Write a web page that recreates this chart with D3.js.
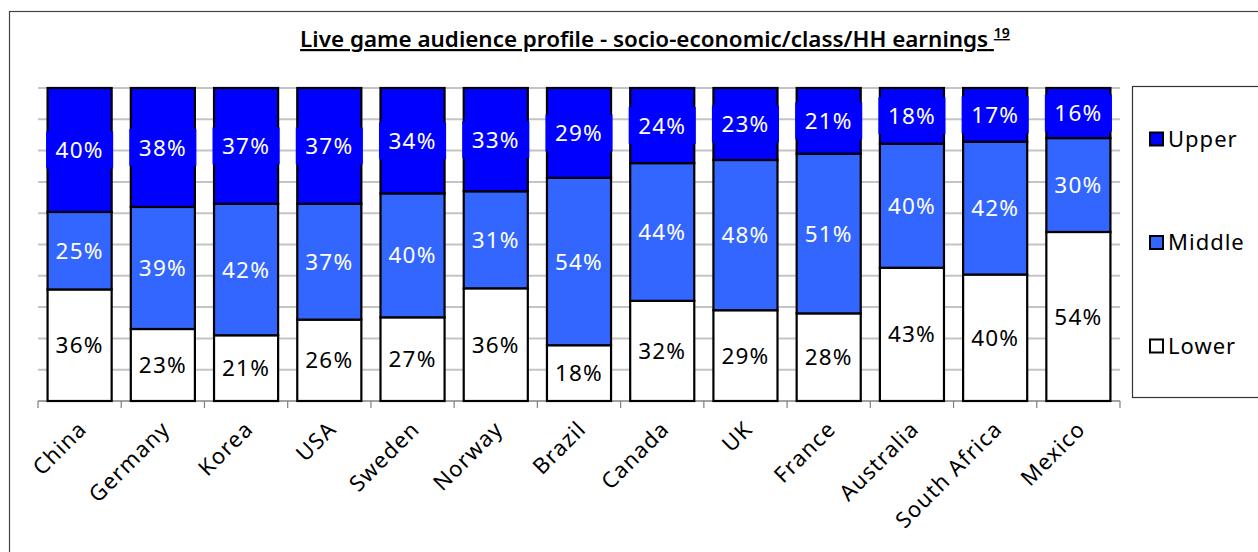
<!DOCTYPE html>
<html>
<head>
<meta charset="utf-8">
<script src="https://cdn.jsdelivr.net/npm/d3@7"></script>
<style>
  html, body { margin: 0; padding: 0; background: #fff; }
  svg { display: block; }
  text { font-family: "Noto Sans", "Open Sans", sans-serif; }
</style>
</head>
<body>
<svg id="chart" width="1258" height="552"></svg>
<script>
// Live game audience by socio-economic class, share of respondents (%)
const countries = ["China", "Germany", "Korea", "USA", "Sweden", "Norway", "Brazil",
                   "Canada", "UK", "France", "Australia", "South Africa", "Mexico"];
const lower  = [36, 23, 21, 26, 27, 36, 18, 32, 29, 28, 43, 40, 54];
const middle = [25, 39, 42, 37, 40, 31, 54, 44, 48, 51, 40, 42, 30];
const upper  = [40, 38, 37, 37, 34, 33, 29, 24, 23, 21, 18, 17, 16];
const seriesNames = ["Lower", "Middle", "Upper"];
const seriesColors = ["#FFFFFF", "#3366FF", "#0000FF"];
const labelColors  = ["#000000", "#FFFFFF", "#FFFFFF"];
const gridTicks = [0, 0.1, 0.2, 0.3, 0.4, 0.5, 0.6, 0.7, 0.8, 0.9, 1.0];
const titleText = "Live game audience profile - socio-economic/class/HH earnings";
const titleNote = "19";

const svg = d3.select("#chart");
const W = 1258, H = 552;
const plot = { left: 38, right: 1120, top: 88, bottom: 401 };

// outer chart frame
svg.append("rect")
  .attr("x", 9.5).attr("y", 11.5)
  .attr("width", W + 20).attr("height", H + 20)
  .attr("fill", "none").attr("stroke", "#444").attr("stroke-width", 1.2);

// title with footnote marker
const title = svg.append("text")
  .attr("x", 655).attr("y", 47)
  .attr("text-anchor", "middle")
  .attr("font-size", 22).attr("font-weight", 600)
  .attr("fill", "#000")
  .attr("text-decoration", "underline");
title.append("tspan").attr("textLength", 688).attr("lengthAdjust", "spacingAndGlyphs").text(titleText);
title.append("tspan").text(" ");
title.append("tspan").attr("font-size", 14).attr("dy", -9).text(titleNote);

const rows = countries.map((c, i) => ({
  country: c, Lower: lower[i], Middle: middle[i], Upper: upper[i]
}));

const stacked = d3.stack()
  .keys(seriesNames)
  .offset(d3.stackOffsetExpand)(rows);

const x = d3.scaleBand()
  .domain(countries)
  .range([plot.left, plot.right])
  .paddingInner(0.23).paddingOuter(0.115);
const xTicks = d3.scaleBand().domain(countries).range([plot.left, plot.right]);

const y = d3.scaleLinear().domain([0, 1]).range([plot.bottom, plot.top]);

// horizontal gridlines
svg.append("g")
  .selectAll("line")
  .data(gridTicks)
  .join("line")
  .attr("x1", plot.left).attr("x2", plot.right)
  .attr("y1", d => y(d)).attr("y2", d => y(d))
  .attr("stroke", "#c4c4c4").attr("stroke-width", 2);

// category axis
const xAxis = svg.append("g")
  .attr("transform", `translate(0,${plot.bottom})`);
xAxis.append("line")
  .attr("x1", plot.left).attr("x2", plot.right)
  .attr("stroke", "#808080").attr("stroke-width", 1.2);
xAxis.selectAll("line.tick")
  .data(countries.concat([null]))
  .join("line")
  .attr("class", "tick")
  .attr("x1", (d, i) => i < countries.length ? xTicks(d) : plot.right)
  .attr("x2", (d, i) => i < countries.length ? xTicks(d) : plot.right)
  .attr("y1", 0).attr("y2", 7)
  .attr("stroke", "#808080").attr("stroke-width", 1.2);

xAxis.selectAll("text")
  .data(countries)
  .join("text")
  .attr("transform", d => `translate(${xTicks(d) + xTicks.bandwidth() / 2 + 3},24) rotate(-45)`)
  .attr("text-anchor", "end")
  .attr("dy", "0.35em")
  .attr("font-size", 22)
  .attr("letter-spacing", 1.2)
  .attr("fill", "#000")
  .text(d => d);

// stacked bars
const layers = svg.append("g").selectAll("g")
  .data(stacked)
  .join("g")
  .attr("fill", (d, i) => seriesColors[i]);

layers.selectAll("rect")
  .data(d => d)
  .join("rect")
  .attr("x", d => x(d.data.country))
  .attr("width", x.bandwidth())
  .attr("y", d => y(d[1]))
  .attr("height", d => y(d[0]) - y(d[1]))
  .attr("stroke", "#000").attr("stroke-width", 2.2);

// value labels
const labelLayer = svg.append("g");
stacked.forEach((layer, si) => {
  layer.forEach(d => {
    const cx = x(d.data.country) + x.bandwidth() / 2;
    const cy = (y(d[0]) + y(d[1])) / 2;
    if (seriesNames[si] === "Upper") {
      const bh = Math.min(37, y(d[0]) - y(d[1]) - 5);
      labelLayer.append("rect")
        .attr("x", x(d.data.country) - 1.5)
        .attr("width", x.bandwidth() + 3)
        .attr("y", cy - bh / 2)
        .attr("height", bh)
        .attr("fill", seriesColors[si]);
    }
    labelLayer.append("text")
      .attr("x", cx).attr("y", cy)
      .attr("dy", "0.36em")
      .attr("text-anchor", "middle")
      .attr("font-size", 22.5)
      .attr("letter-spacing", 1.2)
      .attr("fill", labelColors[si])
      .text(d.data[seriesNames[si]] + "%");
  });
});

// legend
const legend = svg.append("g");
legend.append("rect")
  .attr("x", 1132.5).attr("y", 86.5)
  .attr("width", 200).attr("height", 311)
  .attr("fill", "#fff").attr("stroke", "#333").attr("stroke-width", 1.2);
const legendOrder = ["Upper", "Middle", "Lower"];
const legendY = d3.scalePoint().domain(legendOrder).range([139, 346]);
legendOrder.forEach(name => {
  const si = seriesNames.indexOf(name);
  const g = legend.append("g").attr("transform", `translate(0,${legendY(name)})`);
  g.append("rect")
    .attr("x", 1150).attr("y", -6.5).attr("width", 13).attr("height", 13)
    .attr("fill", seriesColors[si]).attr("stroke", "#000").attr("stroke-width", 2);
  g.append("text")
    .attr("x", 1168).attr("y", 0).attr("dy", "0.36em")
    .attr("font-size", 22).attr("letter-spacing", 1)
    .attr("fill", "#000")
    .text(name);
});
</script>
</body>
</html>
